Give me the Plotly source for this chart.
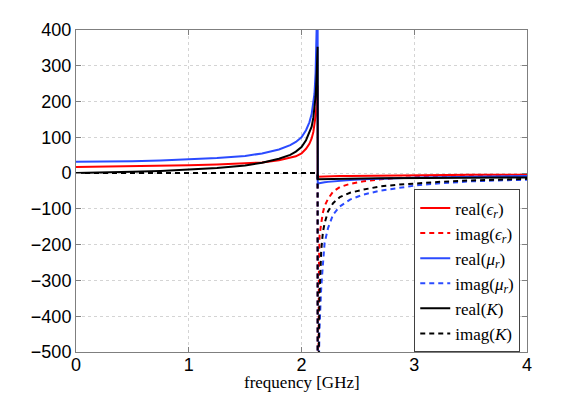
import plotly.graph_objects as go

# Frequency samples [GHz]
freq_pre = [0, 0.25, 0.5, 0.75, 1.0, 1.25, 1.5, 1.65, 1.8, 1.9, 1.95, 2.0,
            2.04, 2.07, 2.09, 2.105, 2.115, 2.125, 2.132, 2.138, 2.143]
freq_post = [2.144, 2.15, 2.155, 2.16, 2.165, 2.175, 2.19, 2.205, 2.235, 2.28,
             2.34, 2.43, 2.55, 2.7, 2.85, 3.05, 3.25, 3.5, 3.75, 4.0]
freq = freq_pre + freq_post

# real / imag values
real_eps = [17, 17.8, 19, 20.5, 22, 24, 27, 30, 36, 42, 47, 55,
            68, 82, 97, 115, 135, 160, 185, 215, 245] + \
           [-10, -10, -10, -10, -9.8, -9.7, -9.5, -9.3, -9, -8.7,
            -8.3, -7.8, -7.3, -6.7, -6.2, -5.7, -5.3, -4.9, -4.6, -4.3]
imag_eps = [0] * 21 + \
           [-900, -400, -250, -175, -160, -140, -110, -92, -72, -52,
            -39, -30, -23, -17, -13.5, -10.5, -8.5, -6.8, -5.7, -5]
real_mu = [31.5, 32, 33.5, 35.5, 38.5, 42.5, 48, 55, 66, 78, 87, 100,
           120, 142, 165, 192, 222, 280, 335, 400, 520] + \
          [-29, -28.5, -28, -27.5, -27, -26.5, -26, -25.5, -24.5, -23,
           -21.5, -19.5, -17.5, -15.5, -14, -12.5, -11.5, -10, -9, -8]
imag_mu = [0] * 21 + \
          [-1200, -700, -520, -430, -380, -320, -255, -195, -154, -116,
           -93, -74, -60, -49, -42, -33, -28, -23, -20.5, -18.5]
real_K = [0.5, 1.5, 3.5, 6, 9, 14, 21, 29, 40, 51, 60, 73,
          92, 112, 130, 155, 180, 215, 255, 305, 353] + \
         [-17, -17, -17, -17, -17, -16.8, -16.6, -16.4, -16.2, -16,
          -15.7, -15.3, -15, -14.5, -14, -13.5, -13, -12.5, -12.2, -12]
imag_K = [0] * 21 + \
         [-1100, -600, -450, -340, -280, -215, -165, -140, -107, -84,
          -67, -55, -46, -37, -32.5, -28, -24, -20.5, -18, -16]

x_ticks = [0, 1, 2, 3, 4]
y_ticks = [-500, -400, -300, -200, -100, 0, 100, 200, 300, 400]
x_title = "frequency [GHz]"

RED = "#ff0000"
BLUE = "#2b4bff"
BLACK = "#000000"
DASH = "5px,4px"

series = [
    ("real(<i>ϵ</i><sub><i>r</i></sub>)", real_eps, RED, "solid"),
    ("imag(<i>ϵ</i><sub><i>r</i></sub>)", imag_eps, RED, DASH),
    ("real(<i>μ</i><sub><i>r</i></sub>)", real_mu, BLUE, "solid"),
    ("imag(<i>μ</i><sub><i>r</i></sub>)", imag_mu, BLUE, DASH),
    ("real(<i>K</i>)", real_K, BLACK, "solid"),
    ("imag(<i>K</i>)", imag_K, BLACK, DASH),
]

fig = go.Figure()
for name, vals, col, dash in series:
    fig.add_trace(go.Scatter(x=freq, y=vals, mode="lines", name=name,
                             line=dict(color=col, width=2, dash=dash)))

axis_common = dict(showline=True, linecolor="#7f7f7f", linewidth=1, mirror="ticks",
                   ticks="inside", ticklen=5, tickcolor="#7f7f7f",
                   showgrid=True, gridcolor="#d4d4d4", griddash="dot", gridwidth=1,
                   zeroline=False, automargin=False,
                   tickfont=dict(family="Liberation Sans, Arial", size=18, color="black"))

fig.update_xaxes(range=[0, 4], tickvals=x_ticks, ticktext=[str(v) for v in x_ticks],
                 ticklabelstandoff=-4, **axis_common)
fig.update_yaxes(range=[-500, 400], tickvals=y_ticks,
                 ticktext=["\u2212" + str(-v) if v < 0 else str(v) for v in y_ticks],
                 **axis_common)

fig.add_annotation(text=x_title, xref="paper", yref="paper", x=0.5, y=0,
                   yshift=-30, xanchor="center", yanchor="middle", showarrow=False,
                   font=dict(family="Liberation Serif, DejaVu Serif", size=17, color="black"))

fig.update_layout(
    width=581, height=396,
    margin=dict(l=68, r=62, t=22, b=52),
    plot_bgcolor="white", paper_bgcolor="white",
    showlegend=True,
    legend=dict(x=0.75, y=0.505, xanchor="left", yanchor="top",
                bgcolor="white", bordercolor="#404040", borderwidth=1,
                font=dict(family="Liberation Serif, DejaVu Serif", size=17, color="black"),
                itemwidth=30, tracegroupgap=0),
)

fig.write_html("out.html")
